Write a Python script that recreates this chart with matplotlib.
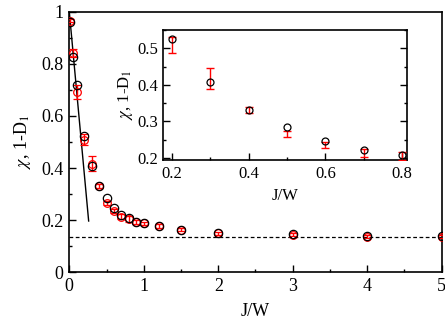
import matplotlib
matplotlib.use("Agg")
import matplotlib.pyplot as plt
from matplotlib.ticker import MultipleLocator

plt.rcParams['font.family'] = ['Liberation Serif', 'DejaVu Serif']
plt.rcParams['mathtext.fontset'] = 'stix'

# main data
x_main = [0.01, 0.05, 0.1, 0.2, 0.3, 0.4, 0.5, 0.6, 0.7, 0.8, 0.9, 1.0, 1.2, 1.5, 2.0, 3.0, 4.0, 5.0]
chi_main = [0.962, 0.828, 0.719, 0.525, 0.408, 0.330, 0.284, 0.246, 0.221, 0.207, 0.194, 0.188, 0.176, 0.163, 0.150, 0.146, 0.139, 0.139]
d_main = [0.965, 0.840, 0.692, 0.509, 0.417, 0.331, 0.266, 0.235, 0.214, 0.205, 0.193, 0.188, 0.177, 0.163, 0.150, 0.145, 0.137, 0.137]
d_err_main = [0.006, 0.015, 0.027, 0.021, 0.029, 0.007, 0.008, 0.008, 0.011, 0.010, 0.006, 0.006, 0.008, 0.006, 0.006, 0.006, 0.007, 0.007]

# inset data
x_in = [0.2, 0.3, 0.4, 0.5, 0.6, 0.7, 0.8]
chi_in = [0.525, 0.408, 0.330, 0.284, 0.246, 0.221, 0.207]
d_in = [0.509, 0.417, 0.331, 0.266, 0.235, 0.214, 0.205]
d_err_in = [0.021, 0.029, 0.007, 0.008, 0.008, 0.011, 0.010]

# reference lines
line_x = [0.0, 0.26]
line_y = [1.0, 0.197]
asym = 0.135

main_ticks_x = [0, 1, 2, 3, 4, 5]
main_ticks_y = [0, 0.2, 0.4, 0.6, 0.8, 1.0]
main_ticklabels_y = ['0', '0.2', '0.4', '0.6', '0.8', '1']

fig = plt.figure(figsize=(4.45, 3.25), dpi=100)
ax = fig.add_axes([0.1557, 0.162, 0.8369, 0.802])

ax.errorbar(x_main, d_main, yerr=d_err_main, fmt='o', color='red', mfc='none',
            mec='red', ms=5.5, mew=0.9, elinewidth=1.0, capsize=2.8, capthick=1.0, zorder=3)
ax.plot(x_main, chi_main, 'o', mfc='none', mec='black', ms=6, mew=0.9, zorder=4)
ax.plot(line_x, line_y, '-', color='black', lw=1.0, zorder=2)
ax.axhline(asym, color='black', lw=0.9, ls=(0, (3, 2)), zorder=1)

ax.set_xlim(0, 5)
ax.set_ylim(0, 1)
ax.xaxis.set_minor_locator(MultipleLocator(0.5))
ax.yaxis.set_minor_locator(MultipleLocator(0.1))
ax.set_yticks(main_ticks_y)
ax.set_yticklabels(main_ticklabels_y)
ax.set_xticks(main_ticks_x)
ax.set_xticklabels([str(v) for v in main_ticks_x])
ax.tick_params(which='both', direction='in', labelsize=13)
ax.tick_params(which='major', length=5, width=1.0, pad=4)
ax.tick_params(which='minor', length=2.5, width=1.0)
for s in ax.spines.values():
    s.set_linewidth(1.2)
ax.set_xlabel('J/W', fontsize=13, labelpad=6)
ax.set_ylabel(r'$\chi$, 1-D$_1$', fontsize=13, labelpad=6)

# inset
ai = fig.add_axes([0.367, 0.5077, 0.547, 0.4])
ai.errorbar(x_in, d_in, yerr=d_err_in, fmt='none', ecolor='red',
            elinewidth=1.0, capsize=3, capthick=1.0, zorder=3)
ai.plot(x_in, chi_in, 'o', mfc='none', mec='black', ms=5, mew=0.9, zorder=4)
ai.set_xlim(0.177, 0.812)
ai.set_ylim(0.194, 0.55)
ai.xaxis.set_major_locator(MultipleLocator(0.2))
ai.xaxis.set_minor_locator(MultipleLocator(0.1))
ai.yaxis.set_major_locator(MultipleLocator(0.1))
ai.yaxis.set_minor_locator(MultipleLocator(0.05))
ai.tick_params(which='both', direction='in', labelsize=12, right=True, top=False)
ai.tick_params(which='major', length=5, width=1.0, pad=4)
ai.tick_params(which='minor', length=2.5, width=1.0)
for s in ai.spines.values():
    s.set_linewidth(1.2)
ai.set_xlabel('J/W', fontsize=12, labelpad=5)
ai.set_ylabel(r'$\chi$, 1-D$_1$', fontsize=12, labelpad=1)

fig.savefig('out.png', dpi=100)
